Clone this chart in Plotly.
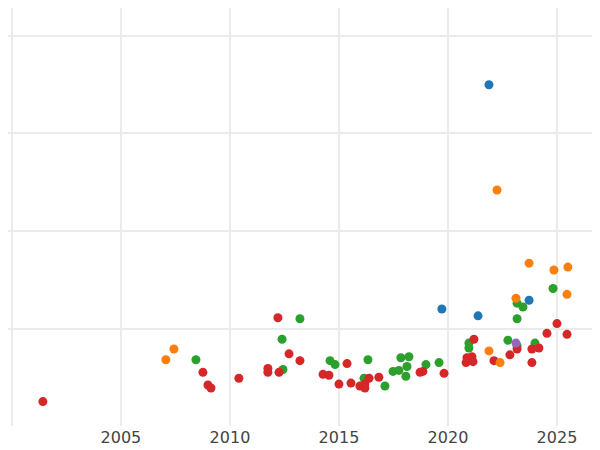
import plotly.graph_objects as go

blue_x = [2021.88, 2019.72, 2021.38, 2023.72]
blue_y = [3.50, 1.20, 1.13, 1.29]
purple_x = [2023.12]
purple_y = [0.85]
orange_x = [2022.25, 2023.72, 2024.86, 2025.5, 2025.46, 2023.12, 2007.43, 2007.06, 2021.88, 2022.39]
orange_y = [2.42, 1.67, 1.60, 1.63, 1.35, 1.31, 0.79, 0.68, 0.77, 0.65]
green_x = [2013.21, 2012.39, 2008.44, 2012.43, 2014.59, 2014.82, 2016.33, 2016.15, 2017.11, 2017.48,
           2017.75, 2017.84, 2018.21, 2018.12, 2018.07, 2018.99, 2019.59, 2020.96, 2020.96, 2024.82,
           2023.17, 2023.44, 2023.17, 2022.75, 2023.99, 2023.17]
green_y = [1.10, 0.89, 0.68, 0.58, 0.67, 0.63, 0.68, 0.49, 0.41, 0.56,
           0.57, 0.70, 0.71, 0.61, 0.51, 0.63, 0.65, 0.85, 0.80, 1.41,
           1.26, 1.22, 1.10, 0.88, 0.85, 0.82]
red_x = [2001.42, 2008.76, 2008.99, 2009.13, 2010.41, 2011.74, 2011.74, 2012.2, 2012.25, 2012.71,
         2013.21, 2014.27, 2014.54, 2015.0, 2015.37, 2015.55, 2015.96, 2016.19, 2016.19, 2016.38,
         2016.83, 2018.72, 2018.85, 2019.82, 2021.19, 2020.87, 2021.1, 2020.83, 2021.15, 2022.11,
         2022.84, 2023.17, 2023.85, 2024.17, 2023.85, 2024.54, 2025.0, 2025.46]
red_y = [0.25, 0.55, 0.42, 0.39, 0.49, 0.59, 0.55, 1.11, 0.55, 0.74,
         0.67, 0.53, 0.52, 0.43, 0.64, 0.44, 0.41, 0.43, 0.39, 0.49,
         0.50, 0.55, 0.56, 0.54, 0.89, 0.70, 0.71, 0.65, 0.66, 0.67,
         0.73, 0.79, 0.79, 0.80, 0.65, 0.95, 1.05, 0.94]

fig = go.Figure()
for xs, ys, c in [(green_x, green_y, "#2ca02c"), (red_x, red_y, "#d62728"),
                  (orange_x, orange_y, "#ff7f0e"), (blue_x, blue_y, "#1f77b4"),
                  (purple_x, purple_y, "#9467bd")]:
    fig.add_trace(go.Scatter(x=xs, y=ys, mode="markers", cliponaxis=False,
                             marker=dict(color=c, size=9)))

fig.update_layout(
    width=600, height=450, showlegend=False,
    margin=dict(l=0, r=0, t=0, b=32),
    paper_bgcolor="white", plot_bgcolor="white",
    font=dict(family="DejaVu Sans", size=16, color="#444"),
)
fig.update_xaxes(range=[1999.82, 2027.34], tickvals=[2000, 2005, 2010, 2015, 2020, 2025],
                 ticktext=["", "2005", "2010", "2015", "2020", "2025"],
                 showgrid=True, gridcolor="#ebebeb", gridwidth=1.5, zeroline=False)
fig.update_yaxes(range=[0, 4.287], tickvals=[1, 2, 3, 4], showticklabels=False,
                 showgrid=True, gridcolor="#ebebeb", gridwidth=1.5, zeroline=False)
fig.write_html("out.html")
